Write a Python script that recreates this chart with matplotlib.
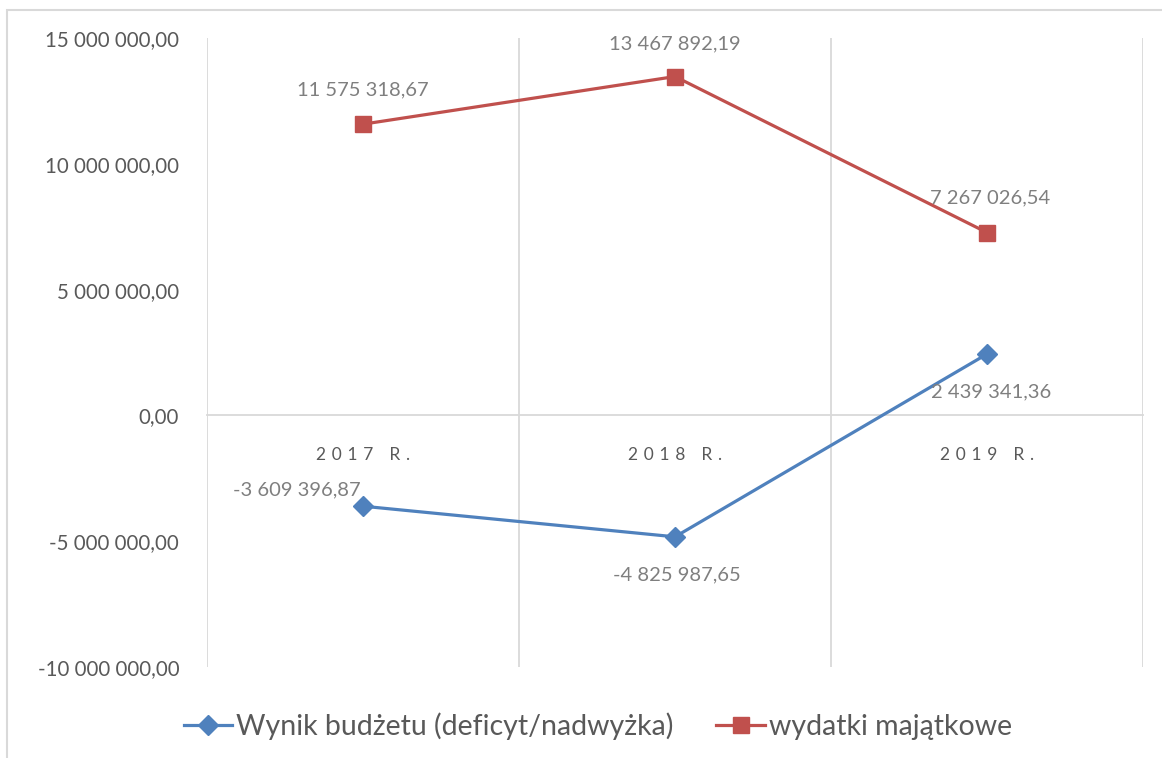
import matplotlib
matplotlib.use("Agg")
import matplotlib.pyplot as plt
from matplotlib.patches import Rectangle
from matplotlib.ticker import FuncFormatter, MultipleLocator

plt.rcParams['font.family'] = ['Lato', 'DejaVu Sans']

categories = ["2017 R.", "2018 R.", "2019 R."]
wynik = [-3609396.87, -4825987.65, 2439341.36]
wydatki = [11575318.67, 13467892.19, 7267026.54]
series_names = ["Wynik budżetu (deficyt/nadwyżka)", "wydatki majątkowe"]

BLUE = "#4f81bd"
RED = "#c0504d"
GRID = "#d9d9d9"
TXT = "#595959"
LBL = "#7f7f7f"


def pl_fmt(v):
    s = f"{abs(v):,.2f}".replace(",", " ").replace(".", ",")
    return ("-" if v < 0 else "") + s


def spaced(s):
    return "\u2004".join(s)


fig = plt.figure(figsize=(11.62, 7.58), dpi=100)
ax = fig.add_axes([207 / 1162, 1 - 667 / 758, (1143 - 207) / 1162, (667 - 38) / 758])

x = list(range(len(categories)))
ax.set_xlim(-0.5, len(categories) - 0.5)
ax.set_ylim(-10_000_000, 15_000_000)

for b in [-0.5, 0.5, 1.5, 2.5]:
    ax.axvline(b, color=GRID, lw=1.3, zorder=0)

for s in ["top", "right", "left"]:
    ax.spines[s].set_visible(False)
ax.spines["bottom"].set_position(("data", 0))
ax.spines["bottom"].set_color(GRID)
ax.spines["bottom"].set_linewidth(1.3)

ax.yaxis.set_major_locator(MultipleLocator(5_000_000))
ax.yaxis.set_major_formatter(FuncFormatter(lambda v, p: pl_fmt(v)))
ax.tick_params(axis="y", length=0, pad=20, labelsize=14.8, labelcolor=TXT)
ax.set_xticks(x)
ax.set_xticklabels([spaced(c) for c in categories])
ax.tick_params(axis="x", length=0, pad=23, labelsize=12.5, labelcolor=TXT)

l1, = ax.plot(x, wynik, color=BLUE, lw=2.3, marker="D", markersize=10, zorder=3)
l2, = ax.plot(x, wydatki, color=RED, lw=2.3, marker="s", markersize=12, zorder=3)

off_blue = [(-66, 16), (2, -38), (4, -38)]
off_red = [(0, 34), (0, 33), (3, 35)]
for xi, v, o in zip(x, wynik, off_blue):
    ax.annotate(pl_fmt(v), (xi, v), xytext=o, textcoords="offset pixels",
                ha="center", va="center", fontsize=14.5, color=LBL)
for xi, v, o in zip(x, wydatki, off_red):
    ax.annotate(pl_fmt(v), (xi, v), xytext=o, textcoords="offset pixels",
                ha="center", va="center", fontsize=14.5, color=LBL)

fig.legend([l1, l2], series_names, loc="center", bbox_to_anchor=(598 / 1162, 1 - 726 / 758),
           ncol=2, frameon=False, fontsize=20.5, labelcolor=TXT, handlelength=1.7,
           handletextpad=0.15, columnspacing=1.5)

fig.patches.append(Rectangle((7 / 1162, -0.1), 1.2, (1 - 10 / 758) + 0.1,
                             transform=fig.transFigure, fill=False,
                             edgecolor=GRID, lw=1.5))

fig.savefig("out.png", dpi=100)
